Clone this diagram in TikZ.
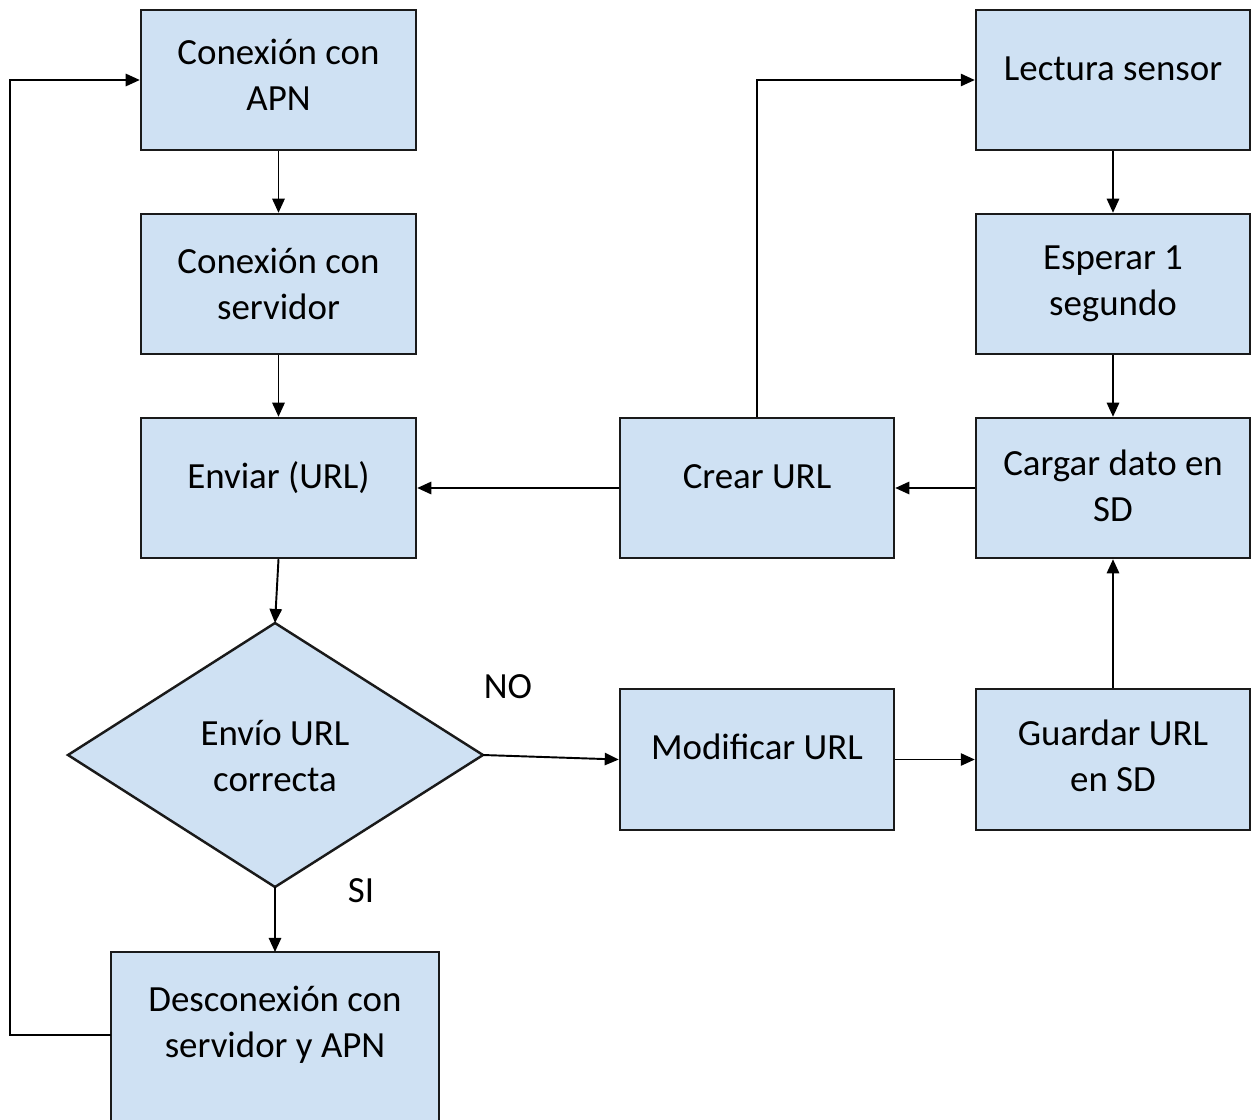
\documentclass[tikz,border=0pt]{standalone}
\usepackage{fontspec}
\setmainfont{Carlito}
\usetikzlibrary{arrows.meta}
\definecolor{boxfill}{HTML}{CFE1F3}
\definecolor{boxline}{HTML}{1A1A1A}
\tikzset{
  stepbox/.style={draw=boxline, line width=1.4pt, fill=boxfill, align=center,
    font=\fontsize{21}{26}\selectfont},
  oneline/.style={text height=0.5cm, text depth=0.5cm},
  twoline/.style={yshift=0pt},
  flow/.style={draw=black, line width=1.1pt, -{Triangle[length=8pt,width=7pt]}},
  tag/.style={font=\fontsize{21}{26}\selectfont}
}
\begin{document}
\begin{tikzpicture}[x=0.02cm,y=-0.02cm]
\useasboundingbox (0,0) rectangle (1260,1119);
\begin{scope}
\clip (0,0) rectangle (1260,1119);
% left column
\node[stepbox, minimum width=5.5cm, minimum height=2.8cm] (apn) at (278.5,80) {Conexión con\\APN\rule[-6pt]{0pt}{0pt}};
\node[stepbox, minimum width=5.5cm, minimum height=2.8cm] (srv) at (278.5,284) {Conexión con\\servidor};
\node[stepbox, oneline, minimum width=5.5cm, minimum height=2.8cm] (send) at (278.5,488) {Enviar (URL)};
\draw[draw=boxline, line width=1.4pt, fill=boxfill] (111,952) rectangle (439,1140);
\node[tag, align=center] (disc) at (275,1025) {Desconexión con\\servidor y APN};
\coordinate (discN) at (275,952);
\coordinate (discW) at (111,1035);
% decision
\draw[draw=boxline, line width=1.4pt, fill=boxfill] (275,623) -- (483,755) -- (275,887) -- (68,755) -- cycle;
\node[tag, align=center] (dec) at (275,756) {Envío URL\\correcta};
\coordinate (decN) at (275,623);
\coordinate (decS) at (275,887);
\coordinate (decE) at (483,755);
% right part
\node[stepbox, oneline, minimum width=5.48cm, minimum height=2.8cm] (read) at (1113,80) {Lectura sensor};
\node[stepbox, minimum width=5.48cm, minimum height=2.8cm] (wait) at (1113,284) {Esperar 1\\segundo};
\node[stepbox, minimum width=5.48cm, minimum height=2.8cm] (load) at (1113,488) {Cargar dato en\\SD\rule[-3pt]{0pt}{0pt}};
\node[stepbox, oneline, minimum width=5.48cm, minimum height=2.8cm] (make) at (757,488) {Crear URL};
\node[stepbox, oneline, minimum width=5.48cm, minimum height=2.82cm] (mod) at (757,759.5) {Modificar URL};
\node[stepbox, minimum width=5.48cm, minimum height=2.82cm] (save) at (1113,759.5) {Guardar URL\\en SD\rule[-4pt]{0pt}{0pt}};
% labels
\node[tag] (no) at (508,687) {NO};
\node[tag] (si) at (361,891) {SI};
% connectors
\draw[flow] (apn.south) -- (srv.north);
\draw[flow] (srv.south) -- (send.north);
\draw[flow] (send.south) -- (decN);
\draw[flow] (decS) -- (discN);
\draw[flow] (discW) -- (10,1035) -- (10,80) -- (apn.west);
\draw[flow] (decE) -- (mod.west);
\draw[flow] (mod.east) -- (save.west);
\draw[flow] (save.north) -- (load.south);
\draw[flow] (load.west) -- (make.east);
\draw[flow] (make.west) -- (send.east);
\draw[flow] (make.north) -- (757,80) -- (read.west);
\draw[flow] (read.south) -- (wait.north);
\draw[flow] (wait.south) -- (load.north);
\end{scope}
\end{tikzpicture}
\end{document}
